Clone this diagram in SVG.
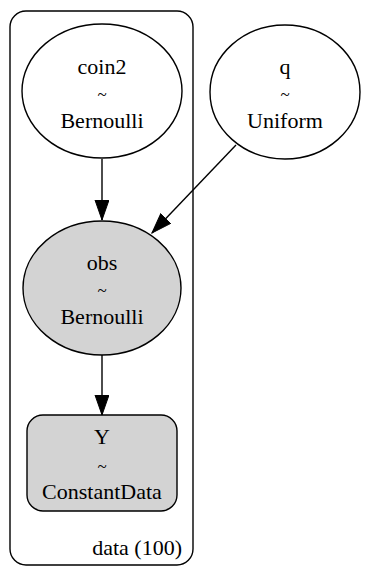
<svg xmlns="http://www.w3.org/2000/svg" width="366" height="573" viewBox="0 0 366 573">
<defs>
<marker id="ah" markerUnits="userSpaceOnUse" markerWidth="22" markerHeight="16" refX="20" refY="7" orient="auto">
<path d="M0,0 L20,7 L0,14 Z" fill="#000" stroke="#000" stroke-width="1"/>
</marker>
</defs>
<rect fill="#fff" width="366" height="573"/>
<g id="cluster_data">
<rect x="10" y="11" width="183" height="554" rx="16" fill="none" stroke="#000" stroke-width="1.4"/>
<text x="182" y="555" style="font-family:'Liberation Serif',serif;font-size:22px;text-anchor:end">data (100)</text>
</g>
<g id="edges" stroke="#000" stroke-width="1.4" fill="none">
<path d="M102,159 L102,220" marker-end="url(#ah)"/>
<path d="M236,145 L152,233" marker-end="url(#ah)"/>
<path d="M102,355 L102,415" marker-end="url(#ah)"/>
</g>
<g id="coin2">
<ellipse cx="102" cy="91" rx="80" ry="67" fill="#fff" stroke="#000" stroke-width="1.4"/>
<text x="102" y="74" style="font-family:'Liberation Serif',serif;font-size:22px;text-anchor:middle">coin2</text>
<text x="102" y="100" style="font-family:'Liberation Serif',serif;font-size:17px;text-anchor:middle">~</text>
<text x="102" y="128" style="font-family:'Liberation Serif',serif;font-size:22px;text-anchor:middle">Bernoulli</text>
</g>
<g id="q">
<ellipse cx="285" cy="92" rx="75" ry="67" fill="#fff" stroke="#000" stroke-width="1.4"/>
<text x="285" y="74" style="font-family:'Liberation Serif',serif;font-size:22px;text-anchor:middle">q</text>
<text x="285" y="100" style="font-family:'Liberation Serif',serif;font-size:17px;text-anchor:middle">~</text>
<text x="285" y="128" style="font-family:'Liberation Serif',serif;font-size:22px;text-anchor:middle">Uniform</text>
</g>
<g id="obs">
<ellipse cx="102" cy="288" rx="79" ry="67" fill="#d3d3d3" stroke="#000" stroke-width="1.4"/>
<text x="102" y="270" style="font-family:'Liberation Serif',serif;font-size:22px;text-anchor:middle">obs</text>
<text x="102" y="296" style="font-family:'Liberation Serif',serif;font-size:17px;text-anchor:middle">~</text>
<text x="102" y="324" style="font-family:'Liberation Serif',serif;font-size:22px;text-anchor:middle">Bernoulli</text>
</g>
<g id="Y">
<rect x="27" y="415" width="150" height="96" rx="16" fill="#d3d3d3" stroke="#000" stroke-width="1.4"/>
<text x="102" y="444" style="font-family:'Liberation Serif',serif;font-size:22px;text-anchor:middle">Y</text>
<text x="102" y="472" style="font-family:'Liberation Serif',serif;font-size:17px;text-anchor:middle">~</text>
<text x="102" y="499" style="font-family:'Liberation Serif',serif;font-size:22px;text-anchor:middle">ConstantData</text>
</g>
</svg>
